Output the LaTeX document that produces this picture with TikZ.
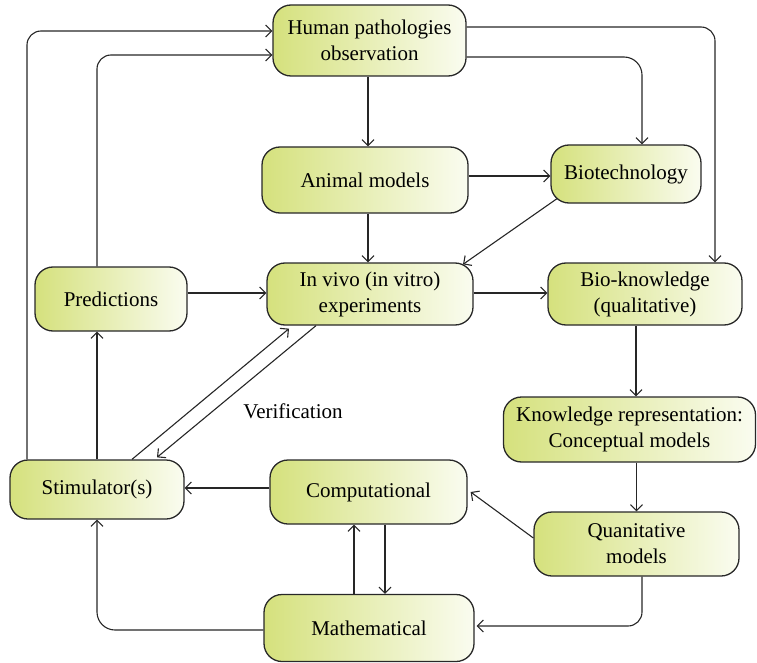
\documentclass[tikz,border=0pt]{standalone}
\usepackage{fontspec}
\setmainfont{Liberation Serif}
\usetikzlibrary{arrows.meta}
\definecolor{boxleft}{RGB}{213,225,125}
\definecolor{boxright}{RGB}{250,252,240}
\definecolor{boxline}{RGB}{40,40,40}
\begin{document}
\begin{tikzpicture}[x=1pt,y=-1pt,
  box/.style={draw=boxline, line width=1.3pt, rounded corners=18pt,
    left color=boxleft, right color=boxright, align=center,
    font=\fontsize{21}{26}\selectfont, inner sep=0pt},
  arr/.style={draw=black!85, line width=1.1pt, -{Straight Barb[length=6pt,width=12pt]}},
  lbl/.style={font=\fontsize{21}{26}\selectfont}]
\useasboundingbox (0,0) rectangle (757,663);
\node[box, minimum width=193pt, minimum height=71pt] (hum) at (369.5,40.5) {Human pathologies\\observation};
\node[box, minimum width=206pt, minimum height=66pt] (ani) at (365,180) {Animal models};
\node[box, minimum width=150pt, minimum height=58pt] (bio) at (626,174) {Biotechnology};
\node[box, minimum width=152pt, minimum height=64pt] (pre) at (111,299) {Predictions};
\node[box, minimum width=206pt, minimum height=62pt] (viv) at (370,294) {In vivo (in vitro)\\experiments};
\node[box, minimum width=194pt, minimum height=62pt] (bk) at (645,294) {Bio-knowledge\\(qualitative)};
\node[box, minimum width=252pt, minimum height=65pt] (kr) at (629.5,429.5) {Knowledge representation:\\Conceptual models};
\node[box, minimum width=205pt, minimum height=64pt] (qm) at (636.5,544) {Quanitative\\models};
\node[box, minimum width=174pt, minimum height=59pt] (sti) at (97,489.5) {Stimulator(s)};
\node[box, minimum width=197pt, minimum height=64pt] (com) at (368.5,492) {Computational};
\node[box, minimum width=210pt, minimum height=67pt] (mat) at (369,628) {Mathematical};
\node[lbl] (ver) at (293,411) {Verification};

\draw[arr, rounded corners=14pt] ([xshift=-70pt]sti.north) |- ([yshift=9.5pt]hum.west);
\draw[arr, rounded corners=14pt] ([xshift=-14pt]pre.north) |- ([yshift=-14.5pt]hum.west);
\draw[arr] ([xshift=-1.5pt]hum.south) -- ([xshift=-1.5pt]hum.south |- ani.north);
\draw[arr, rounded corners=14pt] ([yshift=13.5pt]hum.east) -| ([xshift=70pt]bk.north);
\draw[arr, rounded corners=18pt] ([yshift=-16.5pt]hum.east) -| ([xshift=16pt]bio.north);
\draw[arr] ([yshift=4pt]ani.east) -- ([yshift=4pt]ani.east -| bio.west);
\draw[arr] ([xshift=3pt]ani.south) -- ([xshift=3pt]ani.south |- viv.north);
\draw[arr] ([xshift=-69pt,yshift=5pt]bio.south) -- ([xshift=93pt,yshift=-2pt]viv.north);
\draw[arr] ([yshift=6pt]pre.east) -- ([yshift=6pt]pre.east -| viv.west);
\draw[arr] ([yshift=1pt]viv.east) -- ([yshift=1pt]viv.east -| bk.west);
\draw[arr] ([xshift=-9pt]bk.south) -- ([xshift=-9pt]bk.south |- kr.north);
\draw[arr] (kr.south -| qm.north) -- (qm.north);
\draw[arr] ([yshift=6pt]qm.west) -- ([xshift=3pt]com.east);
\draw[arr, rounded corners=14pt] ([xshift=5.5pt]qm.south) |- ([xshift=2pt,yshift=2pt]mat.east);
\draw[arr] ([yshift=4pt]com.west) -- ([yshift=4pt]com.west -| sti.east);
\draw[arr] ([xshift=-15pt]mat.north) -- ([xshift=-15pt]mat.north |- com.south);
\draw[arr] ([xshift=16.5pt]com.south) -- ([xshift=16.5pt]com.south |- mat.north);
\draw[arr, rounded corners=18pt] ([yshift=-2pt]mat.west) -| (sti.south);
\draw[arr] (sti.north) -- (sti.north |- pre.south);
\draw[arr] ([xshift=35pt]sti.north) -- ([xshift=-81pt,yshift=-3pt]viv.south);
\draw[arr] ([xshift=-54pt]viv.south) -- ([xshift=60pt,yshift=2pt]sti.north);
\end{tikzpicture}
\end{document}
